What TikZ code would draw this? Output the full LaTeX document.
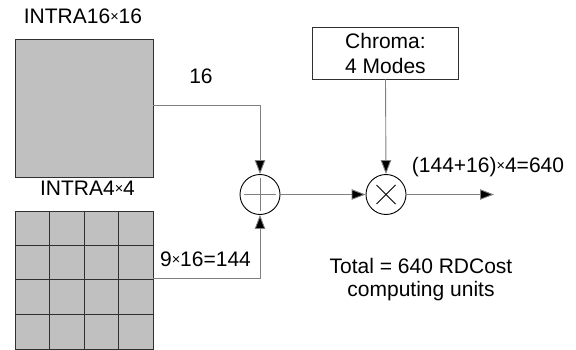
\documentclass[tikz,border=0pt]{standalone}
\usepackage{fontspec}
\setmainfont{Liberation Sans}
\usetikzlibrary{arrows.meta,calc}
\definecolor{blockfill}{HTML}{C0C0C0}
\definecolor{wire}{HTML}{808080}
\definecolor{edge}{HTML}{303030}
\newcommand{\smtimes}{\raisebox{2pt}{\fontsize{14.5}{14.5}\selectfont ×}}
\begin{document}
\begin{tikzpicture}[x=1pt,y=-1pt,
  lbl/.style={font=\fontsize{21}{24}\selectfont, inner sep=0pt, anchor=base},
  blk/.style={draw=edge, fill=blockfill, line width=0.9pt},
  wirestyle/.style={draw=wire, line width=0.9pt},
  arr/.style={wirestyle, -{Triangle[length=14pt,width=10.5pt,fill=black]}},
  opcircle/.style={circle, draw=black, line width=0.9pt, minimum size=40pt, inner sep=0pt},
  chromabox/.style={draw=edge, line width=0.9pt, minimum width=146pt, minimum height=52pt, inner sep=0pt, align=center, font=\fontsize{21}{25}\selectfont}
]
\useasboundingbox (0,0) rectangle (576,350);

% INTRA16x16 block
\node[lbl] (t16) at (83,24) {INTRA16\smtimes16};
\node[blk, minimum width=138pt, minimum height=138pt, inner sep=0pt, anchor=north west] (big) at (15,39.5) {};

% INTRA4x4 grid
\node[lbl] (t4) at (87.5,196) {INTRA4\smtimes4};
\node[blk, minimum width=138pt, minimum height=138pt, inner sep=0pt, anchor=north west] (grid) at (15,210.5) {};
\foreach \i in {1,2,3} {
  \draw[draw=edge, line width=0.9pt] ($(grid.north west)+(34.5*\i,0)$) -- ($(grid.south west)+(34.5*\i,0)$);
  \draw[draw=edge, line width=0.9pt] ($(grid.north west)+(0,34.5*\i)$) -- ($(grid.north east)+(0,34.5*\i)$);
}

% operators
\node[opcircle] (plus) at (260,194.5) {};
\draw[wire, line width=0.9pt] ($(plus.center)+(-16,0)$) -- ($(plus.center)+(16,0)$);
\draw[wire, line width=0.9pt] ($(plus.center)+(0,-16)$) -- ($(plus.center)+(0,16)$);
\node[opcircle] (times) at (386,194.5) {};
\draw[black, line width=0.8pt] ($(times.center)+(-9.5,-9.5)$) -- ($(times.center)+(9.5,9.5)$);
\draw[black, line width=0.8pt] ($(times.center)+(-9.5,9.5)$) -- ($(times.center)+(9.5,-9.5)$);

% chroma
\node[chromabox] (chroma) at (385.5,53) {Chroma:\\4 Modes};

% connectors
\coordinate (bigout) at (153,105);
\coordinate (gridout) at (153,278.5);
\coordinate (outend) at (494,194.5);
\draw[arr] (bigout) -| (plus.north);
\draw[arr] (gridout) -| (plus.south);
\draw[arr] (plus.east) -- (times.west);
\draw[arr] (chroma.south) -- (times.north);
\draw[arr] (times.east) -- (outend);

% labels
\node[lbl] (l16) at (201,83.3) {16};
\node[lbl] (l144) at (205.5,266) {9\smtimes16=144};
\node[lbl] (lout) at (488,173) {(144+16)\smtimes4=640};
\node[lbl] (tot1) at (421,273.3) {Total = 640 RDCost};
\node[lbl] (tot2) at (421,296.7) {computing units};
\end{tikzpicture}
\end{document}
